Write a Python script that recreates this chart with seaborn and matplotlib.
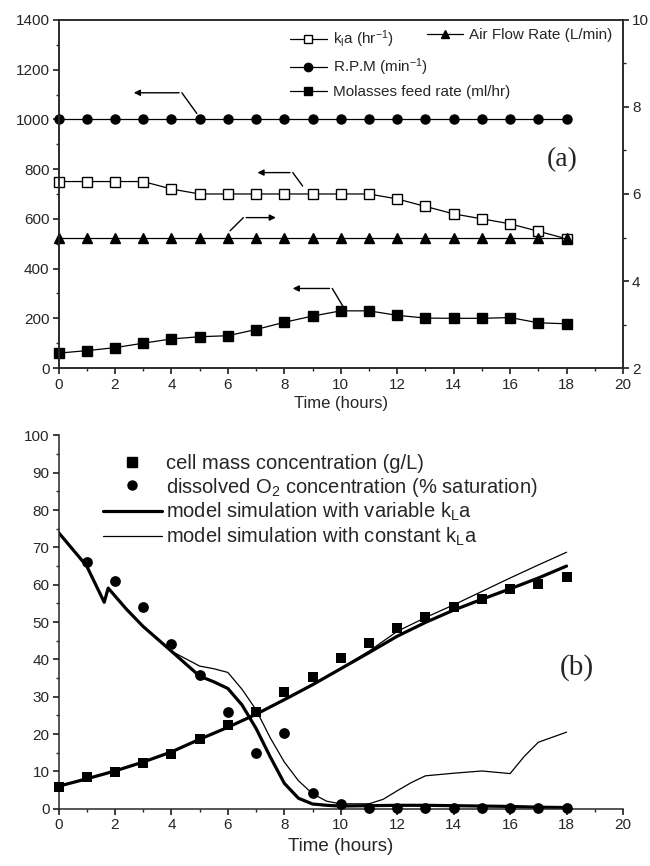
import matplotlib
matplotlib.use("Agg")
import matplotlib.pyplot as plt
import seaborn as sns
import pandas as pd
from matplotlib.lines import Line2D
from matplotlib.ticker import MultipleLocator

# (a) fermenter operating conditions
hours = list(range(19))
rpm = [1000] * 19
kla = [750, 750, 750, 750, 720, 700, 700, 700, 700, 700, 700, 700, 680, 650, 620, 600, 580, 550, 520]
air_flow = [5.0] * 19
molasses = [60, 70, 82, 100, 117, 126, 130, 155, 184, 209, 230, 230, 212, 201, 200, 200, 203, 182, 178]

# (b) measured data
cell_mass = [5.9, 8.4, 9.9, 12.3, 14.7, 18.7, 22.4, 26.0, 31.3, 35.4, 40.4, 44.5, 48.4, 51.4, 53.9, 56.3, 58.8, 60.3, 62.2]
do_hours = list(range(1, 19))
dissolved_o2 = [66, 61, 54, 44, 35.8, 25.9, 15.0, 20.2, 4.1, 1.25, 0.2, 0.2, 0.2, 0.2, 0.2, 0.2, 0.2, 0.2]

# (b) model curves
cell_var = [6.0, 8.0, 10.1, 12.5, 15.2, 18.6, 21.8, 25.3, 29.2, 33.2, 37.5, 41.8, 46.2, 49.9, 53.2, 56.1, 58.9, 61.8, 65.0]
cell_const = [6.0, 8.0, 10.1, 12.5, 15.2, 18.6, 21.8, 25.3, 29.2, 33.2, 37.6, 42.2, 47.5, 51.2, 54.6, 58.2, 61.8, 65.3, 68.7]

t_do_var = [0, 1, 1.62, 1.76, 2.4, 3, 4, 5, 5.5, 6, 6.5, 7, 7.5, 8, 8.5, 9, 9.5, 10, 11, 12, 13, 14, 15, 16, 17, 18]
do_var = [74, 65, 55.3, 59.1, 53.5, 48.8, 42.2, 35.5, 34.0, 32.2, 27.8, 21.5, 13.9, 6.8, 2.8, 1.25, 0.9, 0.7, 0.8, 0.9, 0.9, 0.8, 0.7, 0.6, 0.4, 0.3]
t_do_const = [0, 1, 1.62, 1.76, 2.4, 3, 4, 4.5, 5, 5.5, 6, 6.5, 7, 7.5, 8, 8.5, 9, 9.5, 10, 11, 11.5, 12, 12.5, 13, 14, 15, 16, 16.5, 17, 18]
do_const = [74, 65, 55.3, 59.1, 53.5, 48.8, 42.2, 40.2, 38.2, 37.5, 36.5, 32.0, 26.5, 19.0, 12.5, 7.5, 4.0, 2.0, 1.3, 1.3, 2.5, 4.8, 7.0, 8.8, 9.5, 10.1, 9.4, 14.0, 17.8, 20.5]

sns.set_theme(style="ticks")
plt.rcParams["font.family"] = ["Liberation Sans", "DejaVu Sans"]
plt.rcParams["mathtext.default"] = "regular"
plt.rcParams["axes.linewidth"] = 1.1
plt.rcParams["xtick.major.size"] = 4
plt.rcParams["ytick.major.size"] = 4
plt.rcParams["xtick.minor.size"] = 2.5
plt.rcParams["ytick.minor.size"] = 2.5
plt.rcParams["xtick.major.pad"] = 3
plt.rcParams["ytick.major.pad"] = 2.5
plt.rcParams["xtick.labelsize"] = 11
plt.rcParams["ytick.labelsize"] = 11

fig = plt.figure(figsize=(6.5, 8.66), dpi=100)

# ---------- panel (a) ----------
ax1 = fig.add_axes([0.09, 0.575, 0.8685, 0.402])
ax2 = ax1.twinx()
top = pd.DataFrame({"hours": hours, "rpm": rpm, "kla": kla, "air": air_flow, "mol": molasses})

line_kw = dict(color="black", linewidth=0.9, markersize=6.5, markeredgecolor="black",
               markeredgewidth=1, clip_on=False)
sns.lineplot(data=top, x="hours", y="rpm", ax=ax1, marker="o", **line_kw)
sns.lineplot(data=top, x="hours", y="kla", ax=ax1, marker="s", markerfacecolor="white", **line_kw)
sns.lineplot(data=top, x="hours", y="mol", ax=ax1, marker="s", **line_kw)
sns.lineplot(data=top, x="hours", y="air", ax=ax2, marker="^", **line_kw)

ax1.set_xlim(0, 20)
ax1.set_ylim(0, 1400)
ax2.set_ylim(2, 10)
ax1.xaxis.set_major_locator(MultipleLocator(2))
ax1.xaxis.set_minor_locator(MultipleLocator(1))
ax1.yaxis.set_major_locator(MultipleLocator(200))
ax1.yaxis.set_minor_locator(MultipleLocator(100))
ax2.yaxis.set_major_locator(MultipleLocator(2))
ax2.yaxis.set_minor_locator(MultipleLocator(1))
ax1.set_xlabel("Time (hours)", fontsize=12, labelpad=3)
ax1.set_ylabel("")
ax2.set_ylabel("")
for sp in ax2.spines.values():
    sp.set_linewidth(1.1)

arrow = dict(arrowstyle="-|>", color="black", lw=1, mutation_scale=9)
for head, corner, end in [((2.57, 1107), (4.37, 1107), (4.9, 1024)),
                          ((6.95, 786), (8.3, 786), (8.65, 732)),
                          ((8.2, 320), (9.7, 320), (10.1, 244))]:
    ax1.annotate("", xy=head, xytext=corner, arrowprops=arrow)
    ax1.plot([corner[0], end[0]], [corner[1], end[1]], color="black", lw=1)
ax1.plot([6.08, 6.55], [552, 605], color="black", lw=1)
ax1.annotate("", xy=(7.8, 605), xytext=(6.55, 605), arrowprops=arrow)

ax1.text(17.85, 837, "(a)", fontsize=20, family="Liberation Serif", ha="center", va="center")

h_kla = Line2D([], [], color="black", lw=0.9, marker="s", ms=6, mfc="white", mec="black")
h_rpm = Line2D([], [], color="black", lw=0.9, marker="o", ms=6, mfc="black", mec="black")
h_mol = Line2D([], [], color="black", lw=0.9, marker="s", ms=6, mfc="black", mec="black")
h_air = Line2D([], [], color="black", lw=0.9, marker="^", ms=6, mfc="black", mec="black")
leg_kw = dict(frameon=False, fontsize=11, handlelength=2.4, handletextpad=0.4,
              borderpad=0, borderaxespad=0, loc="upper left")
leg1 = ax2.legend([h_kla, h_rpm, h_mol],
                  ["k$_l$a (hr$^{-1}$)", "R.P.M (min$^{-1}$)", "Molasses feed rate (ml/hr)"],
                  bbox_to_anchor=(0.41, 0.976), labelspacing=0.45, **leg_kw)
ax2.add_artist(leg1)
ax2.legend([h_air], ["Air Flow Rate (L/min)"], bbox_to_anchor=(0.652, 0.976), **leg_kw)

# ---------- panel (b) ----------
ax3 = fig.add_axes([0.09, 0.0662, 0.8685, 0.431])
sns.lineplot(x=hours, y=cell_var, ax=ax3, color="black", linewidth=2.3)
sns.lineplot(x=t_do_var, y=do_var, ax=ax3, color="black", linewidth=2.3)
sns.lineplot(x=hours, y=cell_const, ax=ax3, color="black", linewidth=0.9)
sns.lineplot(x=t_do_const, y=do_const, ax=ax3, color="black", linewidth=0.9)
sns.scatterplot(x=hours, y=cell_mass, ax=ax3, marker="s", s=55, color="black",
                edgecolor="black", linewidth=0, zorder=3, clip_on=False)
sns.scatterplot(x=do_hours, y=dissolved_o2, ax=ax3, marker="o", s=60, color="black",
                edgecolor="black", linewidth=0, zorder=3, clip_on=False)

ax3.set_xlim(0, 20)
ax3.set_ylim(0, 100)
ax3.xaxis.set_major_locator(MultipleLocator(2))
ax3.xaxis.set_minor_locator(MultipleLocator(1))
ax3.yaxis.set_major_locator(MultipleLocator(10))
ax3.yaxis.set_minor_locator(MultipleLocator(5))
ax3.spines["top"].set_visible(False)
ax3.spines["right"].set_visible(False)
ax3.set_xlabel("Time (hours)", fontsize=13.5, labelpad=4)
ax3.set_ylabel("")
ax3.text(18.36, 37.7, "(b)", fontsize=21, family="Liberation Serif", ha="center", va="center")

hb = [Line2D([], [], ls="none", marker="s", ms=6.5, color="black"),
      Line2D([], [], ls="none", marker="o", ms=6.5, color="black"),
      Line2D([], [], color="black", lw=2.3),
      Line2D([], [], color="black", lw=0.9)]
ax3.legend(hb, ["cell mass concentration (g/L)",
                "dissolved O$_2$ concentration (% saturation)",
                "model simulation with variable k$_L$a",
                "model simulation with constant k$_L$a"],
           frameon=False, fontsize=14.5, handlelength=2.9, handletextpad=0.22,
           labelspacing=0.12, borderpad=0, borderaxespad=0, loc="upper left",
           bbox_to_anchor=(0.079, 0.95))

fig.savefig("out.png", dpi=100)
